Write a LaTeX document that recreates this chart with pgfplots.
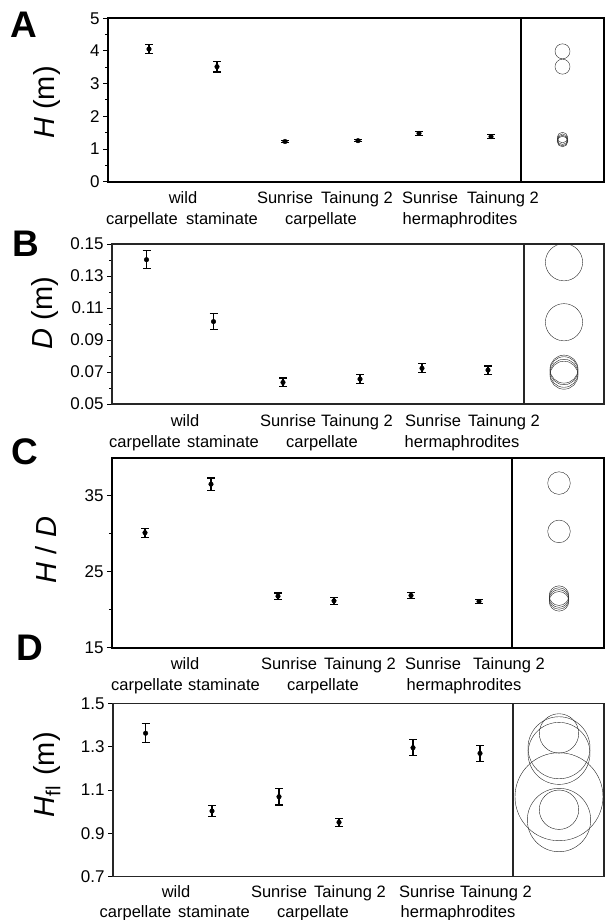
\documentclass[border=0pt]{standalone}
\usepackage{fontspec}
\setmainfont{Liberation Sans}
\usepackage{pgfplots}
\pgfplotsset{compat=1.18}
\tikzset{letter/.style={font=\fontsize{37}{37}\selectfont\bfseries},
  ylab/.style={rotate=90, anchor=center, font=\fontsize{29}{32}\selectfont}}
\pgfplotsset{
  panel/.style={
    scale only axis, clip=false,
    tick align=outside, ytick pos=left,
    major tick length=5pt, minor tick length=3pt,
    ytick style={black, line width=1pt},
    minor y tick style={black, line width=1pt},
    xtick style={draw=none},
    tick label style={font=\fontsize{16.5}{18}\selectfont},
    yticklabel style={font=\fontsize{17}{18}\selectfont},
    /pgf/number format/assume math mode=true,
    xticklabel style={anchor=base, yshift=-17pt},
    extra x tick style={tick style={draw=none}, tick label style={yshift=-21pt}},
  },
  pts/.style={only marks, mark=*, mark size=2.3pt, black,
    error bars/.cd, y dir=both, y explicit,
    error bar style={line width=1.2pt, black},
    error mark options={rotate=90, mark size=4pt, line width=1.2pt, black}},
  circ/.style={scatter, only marks, mark=o,
    scatter/use mapped color={draw=black!85},
    visualization depends on={\thisrow{r}\as\rr},
    scatter/@pre marker code/.append style={/tikz/mark size=\rr pt, /tikz/line width=0.6pt}},
}
\begin{document}
\begin{tikzpicture}
\useasboundingbox (0,0) rectangle (605pt,-920pt);

% ---------------- Panel A ----------------
\begin{axis}[panel, at={(108pt,-18.3pt)}, anchor=north west,
  width=496pt, height=163.4pt,
  axis line style={line width=1.8pt},
  xmin=108, xmax=604, ymin=0, ymax=5,
  ytick={0,1,2,3,4,5}, minor y tick num=1,
  xtick={183,285,357,430,503},
  xticklabels={wild, Sunrise, Tainung 2, Sunrise, Tainung 2},
  extra x ticks={142,222,321,460},
  extra x tick labels={carpellate, staminate, carpellate, hermaphrodites},
]
\addplot[pts] table[x=x, y=y, y error=e] {
x y e
149 4.06 0.14
217 3.52 0.165
285 1.23 0.04
358 1.255 0.03
419 1.48 0.06
491 1.38 0.07
};
\addplot[black, line width=1.8pt, mark=none] coordinates {(521,0) (521,5)};
\addplot[circ] table[x=x, y=y] {
x y r
562.5 3.99 7.5
562.5 3.52 7.5
562.5 1.35 5.3
562.5 1.30 5.3
562.5 1.26 5.3
562.5 1.23 5.3
};
\node[letter] at (axis description cs:-0.17,0.958) {A};
\node[ylab] at (axis description cs:-0.122,0.485) {\textit{H} (m)};
\end{axis}

% ---------------- Panel B ----------------
\begin{axis}[panel, at={(112pt,-244pt)}, anchor=north west,
  width=492pt, height=160pt,
  axis line style={line width=1.3pt, black!85},
  xmin=112, xmax=604, ymin=0.05, ymax=0.15,
  ytick={0.05,0.07,0.09,0.11,0.13,0.15},
  minor ytick={0.06,0.08,0.10,0.12,0.14},
  /pgf/number format/fixed, /pgf/number format/fixed zerofill,
  /pgf/number format/precision=2,
  scaled y ticks=false,
  xtick={185,288,357,433,504},
  xticklabels={wild, Sunrise, Tainung 2, Sunrise, Tainung 2},
  extra x ticks={145,223,322,462},
  extra x tick labels={carpellate, staminate, carpellate, hermaphrodites},
]
\addplot[pts] table[x=x, y=y, y error=e] {
x y e
146.5 0.1402 0.0057
213.5 0.1015 0.0051
283 0.0635 0.0028
360 0.0656 0.0029
422 0.0723 0.0028
488 0.0712 0.0026
};
\addplot[black!85, line width=1.3pt, mark=none] coordinates {(524,0.05) (524,0.15)};
\addplot[circ] table[x=x, y=y] {
x y r
564 0.1386 18.6
564 0.1011 18.6
564 0.0718 14
564 0.0708 14
564 0.0692 14
564 0.0680 14
};
\node[letter] at (axis description cs:-0.175,1.0) {B};
\node[ylab] at (axis description cs:-0.137,0.57) {\textit{D} (m)};
\end{axis}

% ---------------- Panel C ----------------
\begin{axis}[panel, at={(112pt,-457.7pt)}, anchor=north west,
  width=492pt, height=190pt,
  axis line style={line width=1.6pt},
  xmin=112, xmax=604, ymin=15, ymax=40,
  ytick={15,25,35}, minor ytick={20,30},
  xtick={185,289,360,433,509},
  xticklabels={wild, Sunrise, Tainung 2, Sunrise, Tainung 2},
  extra x ticks={147,224,323,464},
  extra x tick labels={carpellate, staminate, carpellate, hermaphrodites},
]
\addplot[pts] table[x=x, y=y, y error=e] {
x y e
145 30.13 0.6
211 36.52 0.82
278 21.78 0.43
334 21.17 0.45
411 21.87 0.35
479 21.09 0.3
};
\addplot[black, line width=1.6pt, mark=none] coordinates {(512,15) (512,40)};
\addplot[circ] table[x=x, y=y] {
x y r
559 36.66 11.3
559 30.3 11.3
559 21.85 9.8
559 21.6 9.8
559 21.35 9.8
559 21.1 9.8
};
\node[letter] at (axis description cs:-0.177,1.03) {C};
\node[ylab] at (axis description cs:-0.134,0.514) {\textit{H} / \textit{D}};
\end{axis}

% ---------------- Panel D ----------------
\begin{axis}[panel, at={(113pt,-703.3pt)}, anchor=north west,
  width=491pt, height=173.4pt,
  axis line style={line width=1.5pt, black!85},
  xmin=113, xmax=604, ymin=0.7, ymax=1.5,
  ytick={0.7,0.9,1.1,1.3,1.5},
  /pgf/number format/fixed, /pgf/number format/fixed zerofill,
  /pgf/number format/precision=1,
  xtick={176,279,350,427,496},
  xticklabels={wild, Sunrise, Tainung 2, Sunrise, Tainung 2},
  extra x ticks={135.5,214,313,458},
  extra x tick labels={carpellate, staminate, carpellate, hermaphrodites},
  xticklabel style={yshift=1pt},
  extra x tick style={tick label style={yshift=1pt}},
]
\addplot[pts] table[x=x, y=y, y error=e] {
x y e
145.6 1.362 0.043
212 1.003 0.026
279 1.069 0.038
339 0.951 0.018
413 1.295 0.037
480 1.269 0.038
};
\addplot[black!85, line width=1.5pt, mark=none] coordinates {(513,0.7) (513,1.5)};
\addplot[circ] table[x=x, y=y] {
x y r
559 1.361 19.7
559 1.295 31
559 1.269 31
559 1.069 44
559 1.009 19.7
559 0.9615 31.7
};
\node[letter] at (axis description cs:-0.169,1.319) {D};
\node[ylab] at (axis description cs:-0.135,0.587) {\textit{H}\textsubscript{fl}\hspace{0.35em}(m)};
\end{axis}
\end{tikzpicture}
\end{document}
